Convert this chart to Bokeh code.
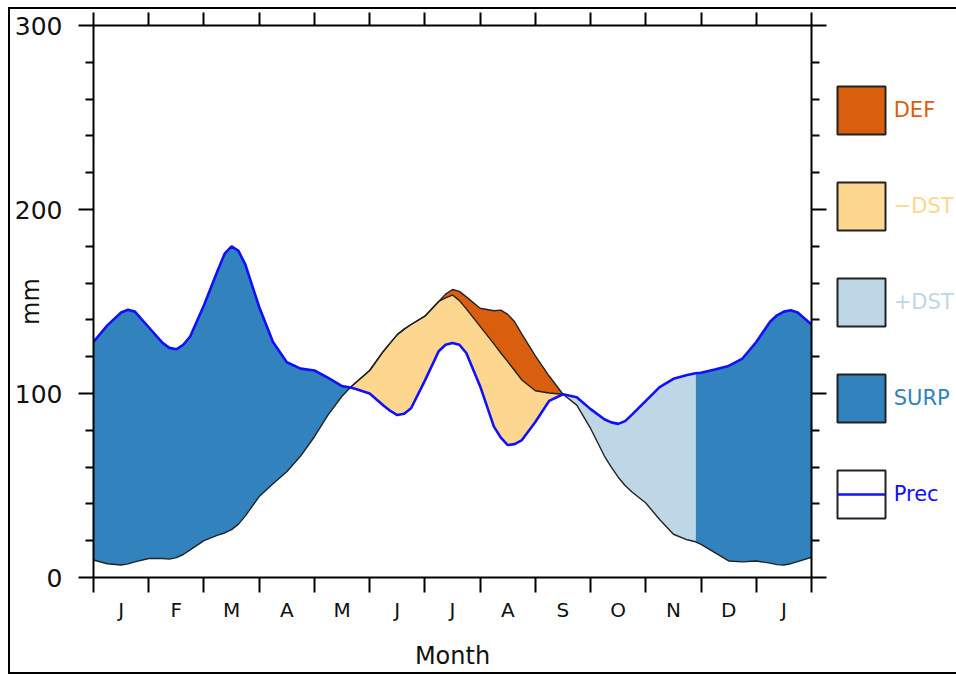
import numpy as np
from bokeh.plotting import figure
from bokeh.layouts import row
from bokeh.models import LinearAxis, FixedTicker, Range1d, Legend, LegendItem
from bokeh.embed import file_html
from bokeh.resources import INLINE

# ---------------- data ----------------
month_names = ["J", "F", "M", "A", "M", "J", "J", "A", "S", "O", "N", "D", "J"]

month = [0.0, 0.25, 0.5, 0.625, 0.75, 1.0, 1.25, 1.375, 1.5, 1.625, 1.75, 2.0,
         2.25, 2.375, 2.5, 2.625, 2.75, 3.0, 3.25, 3.5, 3.75, 4.0, 4.25, 4.5,
         4.65, 4.75, 5.0, 5.25, 5.375, 5.5, 5.625, 5.75, 6.0, 6.25, 6.375, 6.5,
         6.625, 6.75, 7.0, 7.25, 7.375, 7.5, 7.625, 7.75, 8.0, 8.25, 8.5, 8.75,
         9.0, 9.25, 9.375, 9.5, 9.625, 9.75, 10.0, 10.25, 10.5, 10.75, 10.9, 11.0,
         11.25, 11.5, 11.75, 12.0, 12.25, 12.375, 12.5, 12.625, 12.75, 13.0]

prec = [128, 137, 144, 145.5, 144.5, 136, 127.5, 124.8, 124, 126.5, 131, 148,
        167, 176, 180, 177.5, 170, 147, 128, 117, 113.5, 112.5, 108.5, 104,
        103.3, 102.5, 100, 93.5, 90.5, 88.3, 89, 92, 107, 123, 126.5, 127.5,
        126.5, 122, 104, 82, 76, 72, 72.5, 74.5, 84.5, 96, 99.6, 98,
        91.5, 86, 84.3, 83.5, 85, 88.5, 96, 103.5, 108, 110, 111, 111.3,
        113, 115, 119, 128, 139, 142.5, 144.5, 145.3, 144, 137.5]

pet = [9.5, 7.5, 6.8, 7.4, 8.5, 10.3, 10.3, 10, 10.8, 12.5, 15, 20,
       23, 24.2, 26, 29, 33.5, 44, 51, 57.5, 66, 76.5, 88.5, 98.5,
       103.3, 106, 112.5, 123, 127.5, 132, 135, 137.5, 142, 150, 154, 156.5,
       155.5, 152.5, 146.3, 145, 145.3, 143, 139, 132.5, 120.5, 109.5, 99.6, 93.7,
       81, 66, 60, 54.5, 50, 46.5, 40.5, 31.5, 23.5, 20.5, 19.4, 18,
       13.5, 9, 8.5, 9, 7.8, 7, 6.8, 7.5, 8.6, 11]

aet = [9.5, 7.5, 6.8, 7.4, 8.5, 10.3, 10.3, 10, 10.8, 12.5, 15, 20,
       23, 24.2, 26, 29, 33.5, 44, 51, 57.5, 66, 76.5, 88.5, 98.5,
       103.3, 106, 112.5, 123, 127.5, 132, 135, 137.5, 142, 150, 152, 153.5,
       150.5, 146, 136.5, 127, 122, 117.3, 112.5, 107.5, 101.5, 100.3, 99.6, 93.7,
       81, 66, 60, 54.5, 50, 46.5, 40.5, 31.5, 23.5, 20.5, 19.4, 18,
       13.5, 9, 8.5, 9, 7.8, 7, 6.8, 7.5, 8.6, 11]

surp_periods = [(0.0, 4.65), (10.9, 13.0)]
dst_minus_period = (4.65, 8.5)
dst_plus_period = (8.5, 10.9)
def_period = (6.25, 8.5)

y_major = [0, 100, 200, 300]
y_minor = [20, 40, 60, 80, 120, 140, 160, 180, 220, 240, 260, 280]

legend_labels = ["DEF", "\u2212DST", "+DST", "SURP", "Prec"]

# ---------------- styles ----------------
FONT = "DejaVu Sans"
C_DEF = "#d95f0e"
C_DSTM = "#fdd68f"
C_DSTP = "#bdd7e7"
C_SURP = "#3182bd"
C_PREC = "#1010ff"
INK = "#111111"

x = np.array(month, dtype=float)
P = np.array(prec, dtype=float)
E = np.array(pet, dtype=float)
A = np.array(aet, dtype=float)


def sel(period):
    lo, hi = period
    return (x >= lo - 1e-9) & (x <= hi + 1e-9)


p = figure(width=818, height=663, x_range=Range1d(0, 13),
           y_range=Range1d(0, 300), output_backend="svg", toolbar_location=None,
           x_axis_location=None, y_axis_location=None,
           min_border_left=83, min_border_right=17, min_border_top=16,
           min_border_bottom=95)
p.outline_line_color = None
p.background_fill_color = "white"
p.border_fill_color = "white"
for g in p.grid:
    g.visible = False

# ---- areas ----
for per in surp_periods:
    m = sel(per)
    p.varea(x=x[m], y1=E[m], y2=P[m], fill_color=C_SURP)
m = sel(dst_plus_period)
p.varea(x=x[m], y1=E[m], y2=P[m], fill_color=C_DSTP)
m = sel(dst_minus_period)
p.varea(x=x[m], y1=P[m], y2=A[m], fill_color=C_DSTM)
m = sel(def_period)
p.varea(x=x[m], y1=A[m], y2=E[m], fill_color=C_DEF)

# ---- lines ----
p.line(x, E, line_color="#222222", line_width=1.4)
m = sel(dst_minus_period)
p.line(x[m], A[m], line_color="#222222", line_width=1.4)
p.line(x, P, line_color=C_PREC, line_width=2.6)

# ---- axes ----
xt = FixedTicker(ticks=[i + 0.5 for i in range(13)], minor_ticks=list(range(14)))
xt_top = FixedTicker(ticks=[], minor_ticks=list(range(14)))
yt = FixedTicker(ticks=y_major, minor_ticks=y_minor)


def style_axis(ax):
    ax.axis_line_width = 2
    ax.axis_line_color = "black"
    ax.major_tick_line_width = 2
    ax.minor_tick_line_width = 2
    ax.major_tick_line_color = "black"
    ax.minor_tick_line_color = "black"
    ax.major_tick_in = 0
    ax.minor_tick_in = 0
    ax.major_label_text_font = FONT
    ax.major_label_text_color = INK
    ax.axis_label_text_font = FONT
    ax.axis_label_text_font_style = "normal"
    ax.axis_label_text_color = INK


bottom = LinearAxis(ticker=xt, axis_label="Month",
                    major_label_overrides={i + 0.5: n for i, n in enumerate(month_names)})
style_axis(bottom)
bottom.major_tick_out = 0
bottom.minor_tick_out = 15
bottom.major_label_standoff = 5
bottom.major_label_text_font_size = "20px"
bottom.axis_label_text_font_size = "24px"
bottom.axis_label_standoff = 17
p.add_layout(bottom, "below")

top = LinearAxis(ticker=xt_top)
style_axis(top)
top.major_tick_out = 0
top.minor_tick_out = 13
top.major_label_standoff = 0
p.add_layout(top, "above")

left = LinearAxis(ticker=yt, axis_label="mm")
style_axis(left)
left.major_tick_out = 15
left.minor_tick_out = 8
left.major_label_standoff = 16
left.major_label_text_font_size = "25px"
left.axis_label_text_font_size = "24px"
left.axis_label_standoff = -33
p.add_layout(left, "left")

right = LinearAxis(ticker=yt, major_label_overrides={v: "" for v in y_major})
style_axis(right)
right.major_tick_out = 15
right.minor_tick_out = 8
right.major_label_standoff = 0
right.major_label_text_color = None
p.add_layout(right, "right")

# ---- legend panel ----
leg = figure(width=128, height=663, x_range=Range1d(0, 1), y_range=Range1d(0, 1),
             output_backend="svg", toolbar_location=None,
             x_axis_location=None, y_axis_location=None, min_border=0)
leg.outline_line_color = None
leg.background_fill_color = "white"
leg.border_fill_color = "white"
for g in leg.grid:
    g.visible = False

box_fills = [C_DEF, C_DSTM, C_DSTP, C_SURP, "white"]
label_colors = [C_DEF, C_DSTM, C_DSTP, C_SURP, C_PREC]
nan1 = [np.nan]
vx = 2.7
vy0 = 437.5
step = 96.1
for k, (lab, fc, tc) in enumerate(zip(legend_labels, box_fills, label_colors)):
    r = leg.quad(left=nan1, right=nan1, top=nan1, bottom=nan1, fill_color=fc,
                 line_color="#222222", line_width=2)
    lg = Legend(items=[LegendItem(label=lab, renderers=[r])],
                location=(vx, vy0 - k * step), glyph_width=60, glyph_height=60,
                label_standoff=3, padding=0, margin=0, border_line_color=None,
                background_fill_alpha=0, label_text_font=FONT,
                label_text_font_size="21px", label_text_color=tc)
    leg.add_layout(lg, "center")
    if lab == "Prec":
        rl = leg.line(x=nan1, y=nan1, line_color=C_PREC, line_width=2.6)
        lg2 = Legend(items=[LegendItem(label=" ", renderers=[rl])],
                     location=(vx + 6, vy0 - k * step + 6), glyph_width=48,
                     glyph_height=48, label_standoff=0, padding=0, margin=0,
                     border_line_color=None, background_fill_alpha=0,
                     label_text_font=FONT, label_text_font_size="10px",
                     label_text_color=None)
        leg.add_layout(lg2, "center")

layout = row(p, leg, margin=(7, 0, 0, 8),
             styles={"border-left": "2px solid black",
                     "border-top": "2px solid black",
                     "border-bottom": "2px solid black"})

open("out.html", "w").write(file_html(layout, INLINE))
